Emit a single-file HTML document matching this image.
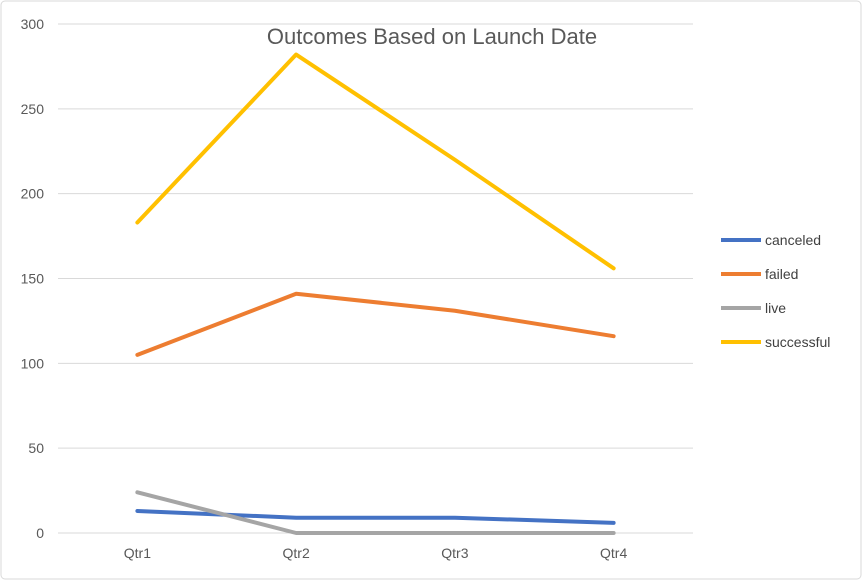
<!DOCTYPE html>
<html><head><meta charset="utf-8">
<style>
html,body{margin:0;padding:0;background:#fff;}
svg{display:block;font-family:"Liberation Sans",sans-serif;}
</style></head>
<body>
<svg id="chart" width="862" height="580">
<rect x="1" y="1" width="860" height="578" rx="4" fill="#fff" stroke="#d9d9d9"/>
<g id="grid"></g>
<g id="yticks"></g>
<g id="xticks"></g>
<g id="lines"></g>
<text x="432" y="44" text-anchor="middle" font-size="22" fill="#595959">Outcomes Based on Launch Date</text>
<g id="legend"></g>
</svg>
<script>
const categories=["Qtr1","Qtr2","Qtr3","Qtr4"];
const seriesNames=["canceled","failed","live","successful"];
const canceled=[13,9,9,6];
const failed=[105,141,131,116];
const live=[24,0,0,0];
const successful=[183,282,220,156];
const yTicks=[0,50,100,150,200,250,300];
const colors=["#4472c4","#ed7d31","#a5a5a5","#ffc000"];
const NS="http://www.w3.org/2000/svg";
const plotLeft=58,plotRight=693,plotTop=24,plotBottom=533,yMax=300;
function yPos(v){return plotBottom-(v/yMax)*(plotBottom-plotTop);}
function xPos(i){const w=(plotRight-plotLeft)/categories.length;return plotLeft+w*(i+0.5);}
function mk(t,a,p){const e=document.createElementNS(NS,t);for(const k in a)e.setAttribute(k,a[k]);p.appendChild(e);return e;}
const grid=document.getElementById('grid'),yt=document.getElementById('yticks'),xt=document.getElementById('xticks'),lines=document.getElementById('lines'),lg=document.getElementById('legend');
yTicks.forEach(t=>{
 const l=mk('line',{x1:plotLeft,x2:plotRight,y1:yPos(t),y2:yPos(t),stroke:'#d9d9d9','stroke-width':1},grid);
 
 
 const tx=mk('text',{x:44,y:yPos(t)+5,'text-anchor':'end','font-size':14,fill:'#595959'},yt);
 tx.textContent=t;
 
 
});
categories.forEach((c,i)=>{
 const tx=mk('text',{x:xPos(i),y:558,'text-anchor':'middle','font-size':14,fill:'#595959'},xt);
 tx.textContent=c;
 
 
});
[canceled,failed,live,successful].forEach((s,k)=>{
 const pts=s.map((v,i)=>xPos(i)+','+yPos(v)).join(' ');
 const pl=mk('polyline',{points:pts,fill:'none',stroke:colors[k],'stroke-width':4,'stroke-linejoin':'round','stroke-linecap':'round'},lines);
 
 
 const ly=240+k*34;
 const ll=mk('line',{x1:721,x2:761,y1:ly,y2:ly,stroke:colors[k],'stroke-width':4},lg);
 
 
 const lt=mk('text',{x:765,y:ly+5,'font-size':14,fill:'#404040'},lg);
 lt.textContent=seriesNames[k];
 
 
});
</script>
</body></html>
